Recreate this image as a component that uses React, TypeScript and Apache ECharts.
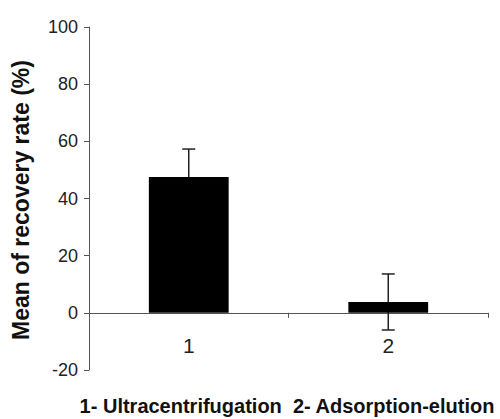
import React, { useEffect, useRef } from "react";
import * as echarts from "echarts";

const categories = ["1", "2"];
const means = [47.5, 3.8];
const errors = [9.8, 9.8];
const yTicks = { min: -20, max: 100, interval: 20 };
const yTitle = "Mean of recovery rate (%)";
const footnote = "1- Ultracentrifugation  2- Adsorption-elution";

const FONT = "'Liberation Sans', Arial, sans-serif";

export default function App() {
  const ref = useRef<HTMLDivElement>(null);
  useEffect(() => {
    if (!ref.current) return;
    const chart = echarts.init(ref.current, null, { renderer: "svg" });
    const errData = means.map((m, i) => [i, m - errors[i], m + errors[i]]);
    chart.setOption({
      animation: false,
      backgroundColor: "#fff",
      grid: { left: 89, right: 12, top: 27, bottom: 49, containLabel: false },
      xAxis: {
        type: "category",
        data: categories,
        axisLine: { onZero: true, lineStyle: { color: "#555", width: 1 } },
        axisTick: { show: true, length: 5, lineStyle: { color: "#555" } },
        axisLabel: { margin: -35, fontSize: 21, color: "#222", fontFamily: FONT },
        splitLine: { show: false },
      },
      yAxis: {
        type: "value",
        min: yTicks.min,
        max: yTicks.max,
        interval: yTicks.interval,
        axisLine: { show: true, lineStyle: { color: "#555", width: 1 } },
        axisTick: { show: true, length: 5, lineStyle: { color: "#555" } },
        axisLabel: { margin: 11, fontSize: 18, color: "#222", fontFamily: FONT },
        splitLine: { show: false },
      },
      series: [
        {
          type: "bar",
          data: means,
          barWidth: "40%",
          itemStyle: { color: "#000" },
          z: 3,
        },
        {
          type: "custom",
          z: 2,
          data: errData,
          renderItem: (params: any, api: any) => {
            const x = api.coord([api.value(0), 0])[0];
            const lo = api.coord([api.value(0), api.value(1)])[1];
            const hi = api.coord([api.value(0), api.value(2)])[1];
            const hw = 6.5;
            const style = { stroke: "#222", lineWidth: 1.5 };
            return {
              type: "group",
              children: [
                { type: "line", shape: { x1: x, y1: lo, x2: x, y2: hi }, style },
                { type: "line", shape: { x1: x - hw, y1: hi, x2: x + hw, y2: hi }, style },
                { type: "line", shape: { x1: x - hw, y1: lo, x2: x + hw, y2: lo }, style },
              ],
            };
          },
        },
      ],
      graphic: [
        {
          type: "text",
          x: 21,
          y: 200,
          rotation: Math.PI / 2,
          style: {
            text: yTitle,
            fontSize: 23,
            fontWeight: "bold",
            fontFamily: FONT,
            fill: "#111",
            align: "center",
            verticalAlign: "middle",
          },
        },
        {
          type: "text",
          x: 287,
          y: 406,
          style: {
            text: footnote,
            fontSize: 20,
            fontWeight: "bold",
            fontFamily: FONT,
            fill: "#111",
            align: "center",
            verticalAlign: "middle",
          },
        },
      ],
    });
    return () => chart.dispose();
  }, []);
  return <div ref={ref} style={{ width: 500, height: 419, position: "absolute", left: 0, top: 0 }} />;
}
